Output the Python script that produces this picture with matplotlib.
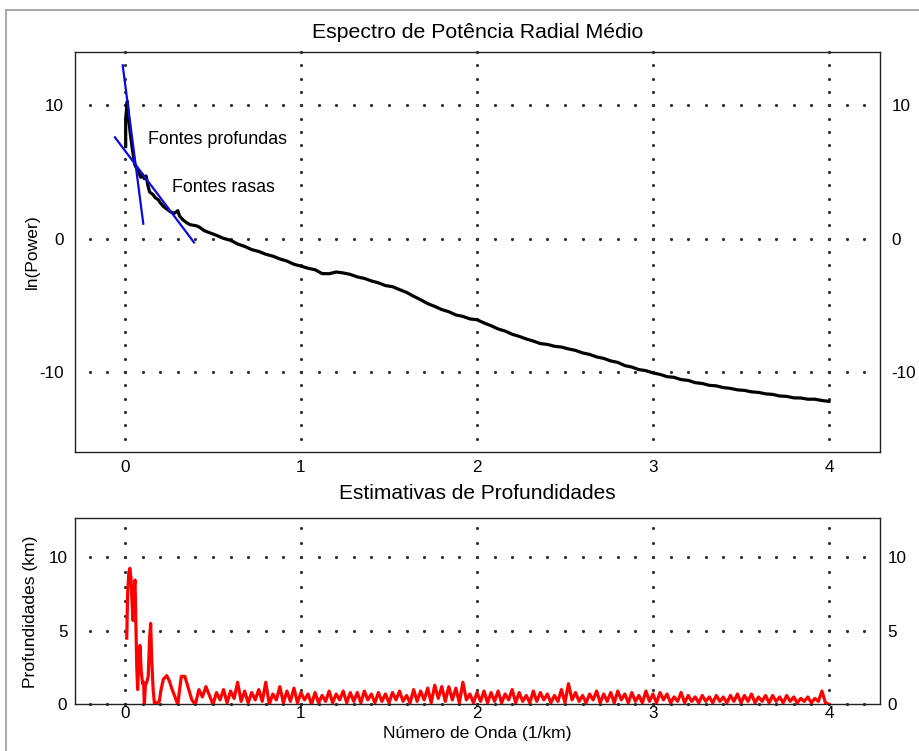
import numpy as np
import matplotlib
matplotlib.use("Agg")
import matplotlib.pyplot as plt
from matplotlib.lines import Line2D

plt.rcParams['font.family'] = ['Liberation Sans', 'DejaVu Sans']
plt.rcParams['axes.unicode_minus'] = False

# ---------------- data ----------------
# radial power spectrum, early part (explicit wavenumbers)
k_spec_early = [0.004, 0.004, 0.013, 0.020, 0.030, 0.040, 0.050, 0.057, 0.070, 0.080,
                0.090, 0.100, 0.110, 0.120, 0.130, 0.140, 0.150, 0.160, 0.170, 0.180,
                0.190, 0.200, 0.220, 0.240, 0.260, 0.280, 0.300, 0.310, 0.330, 0.350,
                0.370, 0.390, 0.410, 0.430, 0.450, 0.480]
ln_spec_early = [6.9, 9.0, 10.3, 9.1, 7.9, 6.9, 6.0, 5.5, 5.2, 4.9,
                 4.6, 4.8, 4.5, 4.7, 4.0, 3.5, 3.4, 3.3, 3.1, 3.0,
                 2.9, 2.7, 2.4, 2.2, 2.0, 1.9, 2.1, 1.7, 1.4, 1.2,
                 1.05, 1.0, 0.95, 0.8, 0.6, 0.45]
# remaining spectrum, sampled every 0.04 from 0.52
k_spec_start, k_spec_step = 0.52, 0.04
ln_spec_rest = [0.25, 0.02, -0.12, -0.4, -0.58, -0.82, -0.96, -1.17, -1.31, -1.52,
                -1.68, -1.92, -2.06, -2.22, -2.33, -2.62, -2.63, -2.5, -2.57, -2.68,
                -2.87, -2.98, -3.17, -3.31, -3.52, -3.6, -3.82, -4.03, -4.32, -4.58,
                -4.87, -5.08, -5.32, -5.48, -5.72, -5.83, -6.02, -6.08, -6.32, -6.53,
                -6.77, -6.93, -7.17, -7.33, -7.52, -7.68, -7.87, -7.93, -8.07, -8.13,
                -8.27, -8.38, -8.57, -8.68, -8.87, -8.98, -9.17, -9.28, -9.52, -9.63,
                -9.82, -9.9, -10.07, -10.18, -10.35, -10.4, -10.57, -10.63, -10.8, -10.86,
                -11.0, -11.04, -11.17, -11.23, -11.34, -11.38, -11.49, -11.53, -11.64, -11.68,
                -11.8, -11.83, -11.94, -11.95, -12.04, -12.04, -12.14, -12.2]

# fitted straight segments
deep_fit_k = [-0.013, 0.104]
deep_fit_ln = [13.0, 1.12]
shallow_fit_k = [-0.057, 0.392]
shallow_fit_ln = [7.6, -0.28]

# depth estimates, early part (explicit wavenumbers)
k_depth_early = [0.010, 0.015, 0.022, 0.028, 0.034, 0.040, 0.046, 0.052, 0.057, 0.062,
                 0.067, 0.072, 0.078, 0.085, 0.092, 0.100, 0.106, 0.110, 0.116, 0.124,
                 0.132, 0.140, 0.146, 0.152, 0.160, 0.168, 0.195, 0.205, 0.218, 0.237,
                 0.252, 0.265, 0.284]
depth_early = [4.5, 7.5, 9.0, 9.25, 8.6, 7.0, 5.7, 7.9, 8.45, 5.5,
               2.5, 1.0, 2.8, 4.0, 2.3, 1.4, 1.5, 0.0, 1.3, 1.5,
               1.9, 4.5, 5.5, 3.0, 1.0, 0.0, 0.2, 1.0, 1.7, 1.95,
               1.6, 1.1, 0.5]
# remaining depths, sampled every 0.02 from 0.30
k_depth_start, k_depth_step = 0.30, 0.02
depth_rest = [0.0, 1.9, 1.9, 1.1, 0.3, 0.0, 1.0, 0.5, 1.2, 0.6,
              0.0, 0.8, 0.3, 1.0, 0.1, 0.9, 0.4, 1.5, 0.2, 0.9,
              0.1, 0.8, 0.3, 1.0, 0.2, 1.5, 0.0, 0.7, 0.3, 1.2,
              0.1, 0.9, 0.2, 1.1, 0.1, 0.8, 0.3, 0.7, 0.0, 0.8,
              0.1, 0.6, 0.2, 0.9, 0.1, 0.7, 0.3, 0.9, 0.1, 0.8,
              0.2, 0.8, 0.1, 0.9, 0.3, 0.7, 0.1, 0.8, 0.2, 0.7,
              0.1, 0.8, 0.3, 0.9, 0.2, 0.6, 0.1, 1.0, 0.2, 0.9,
              0.3, 1.1, 0.1, 1.3, 0.4, 1.2, 0.2, 1.2, 0.3, 1.1,
              0.1, 1.5, 0.3, 0.7, 0.1, 0.8, 0.2, 0.9, 0.1, 0.8,
              0.2, 0.9, 0.1, 0.7, 0.3, 1.0, 0.1, 0.8, 0.2, 0.6,
              0.1, 0.9, 0.2, 0.8, 0.3, 0.7, 0.1, 0.6, 0.2, 1.0,
              0.1, 1.4, 0.3, 0.8, 0.2, 0.6, 0.1, 0.7, 0.3, 0.9,
              0.1, 0.7, 0.2, 0.8, 0.1, 0.9, 0.3, 0.7, 0.1, 0.8,
              0.2, 0.6, 0.1, 0.9, 0.2, 0.7, 0.1, 0.8, 0.3, 0.7,
              0.1, 0.5, 0.2, 0.8, 0.1, 0.6, 0.2, 0.5, 0.1, 0.6,
              0.2, 0.5, 0.1, 0.6, 0.2, 0.5, 0.1, 0.6, 0.2, 0.7,
              0.1, 0.6, 0.2, 0.7, 0.1, 0.5, 0.2, 0.6, 0.1, 0.6,
              0.2, 0.5, 0.1, 0.6, 0.2, 0.5, 0.1, 0.4, 0.2, 0.5,
              0.1, 0.4, 0.2, 0.9, 0.1, 0.0]

x_ticks = [0, 1, 2, 3, 4]
top_yticks = [-10, 0, 10]
bot_yticks = [0, 5, 10]

title_top = "Espectro de Potência Radial Médio"
title_bot = "Estimativas de Profundidades"
ylabel_top = "ln(Power)"
ylabel_bot = "Profundidades (km)"
xlabel_bot = "Número de Onda (1/km)"

# ---------------- build series ----------------
k_spec = np.concatenate([k_spec_early,
                         k_spec_start + k_spec_step * np.arange(len(ln_spec_rest))])
ln_spec = np.concatenate([ln_spec_early, ln_spec_rest])
k_depth = np.concatenate([k_depth_early,
                          k_depth_start + k_depth_step * np.arange(len(depth_rest))])
depth = np.concatenate([depth_early, depth_rest])

# ---------------- figure ----------------
W, H = 919, 751
fig = plt.figure(figsize=(W / 100, H / 100), dpi=100)

def fx(px):
    return px / W

def fy(py):
    return 1 - py / H

ax1 = fig.add_axes([fx(75), fy(452), fx(880) - fx(75), fy(52) - fy(452)])
ax2 = fig.add_axes([fx(75), fy(704.3), fx(880) - fx(75), fy(518.3) - fy(704.3)])

xlim = (-0.284, 4.29)
FS = 12.3
grid_col = '#333333'
blue = '#0a0ae0'

def dotted_grid(ax, xs, ys, yrange, xrange_):
    for xv in xs:
        yy = np.arange(yrange[0], yrange[1] + 0.01, 1.0)
        ax.plot(np.full_like(yy, xv), yy, linestyle='none', marker='o',
                ms=2.3, mfc=grid_col, mec='none', clip_on=False, zorder=1)
    for yv in ys:
        xx = np.arange(xrange_[0], xrange_[1] + 0.001, 0.1)
        ax.plot(xx, np.full_like(xx, yv), linestyle='none', marker='o',
                ms=2.3, mfc=grid_col, mec='none', clip_on=False, zorder=1)

# top axes
dotted_grid(ax1, x_ticks, top_yticks, (-15, 14), (-0.2, 4.2))
ax1.plot(k_spec, ln_spec, color='black', lw=2.3, zorder=3, solid_joinstyle='round')
ax1.plot(deep_fit_k, deep_fit_ln, color=blue, lw=1.6, zorder=4)
ax1.plot(shallow_fit_k, shallow_fit_ln, color=blue, lw=1.6, zorder=4)
ax1.text(0.13, 7.42, "Fontes profundas", fontsize=12.9, va='center', ha='left')
ax1.text(0.267, 3.82, "Fontes rasas", fontsize=12.9, va='center', ha='left')
ax1.set_xlim(*xlim)
ax1.set_ylim(-16, 14)
ax1.set_xticks(x_ticks)
ax1.set_yticks(top_yticks)
ax1.tick_params(axis='both', length=0, labelsize=FS)
ax1.tick_params(axis='x', pad=6)
ax1.tick_params(axis='y', right=True, labelright=True)
for t in ax1.yaxis.get_major_ticks():
    t.set_pad(8.2)
ax1.set_title(title_top, fontsize=15.3, pad=10)
ax1.set_ylabel(ylabel_top, fontsize=12.6)
ax1.yaxis.set_label_coords(-0.0435, 0.5)

# bottom axes
dotted_grid(ax2, x_ticks, bot_yticks, (0, 12), (-0.2, 4.2))
ax2.plot(k_depth, depth, color='#ff0000', lw=2.3, zorder=3, solid_joinstyle='round')
ax2.set_xlim(*xlim)
ax2.set_ylim(0, 12.65)
ax2.set_xticks(x_ticks)
ax2.set_yticks(bot_yticks)
ax2.tick_params(axis='both', length=0, labelsize=FS)
ax2.tick_params(axis='x', pad=1)
ax2.tick_params(axis='y', right=True, labelright=True)
for t in ax2.yaxis.get_major_ticks():
    t.set_pad(5.5)
ax2.set_title(title_bot, fontsize=15, pad=14)
ax2.set_ylabel(ylabel_bot, fontsize=12.6)
ax2.yaxis.set_label_coords(-0.046, 0.5)
ax2.set_xlabel(xlabel_bot, fontsize=12.6, labelpad=4)

for ax in (ax1, ax2):
    for s in ax.spines.values():
        s.set_color('#222222')
        s.set_linewidth(1.0)

# outer frame (grey)
fig.add_artist(Line2D([fx(5.5), fx(5.5)], [0, fy(10)], color='#9a9a9a', lw=1.2))
fig.add_artist(Line2D([fx(5.5), 1], [fy(10), fy(10)], color='#9a9a9a', lw=1.2))

fig.savefig("out.png", dpi=100)
